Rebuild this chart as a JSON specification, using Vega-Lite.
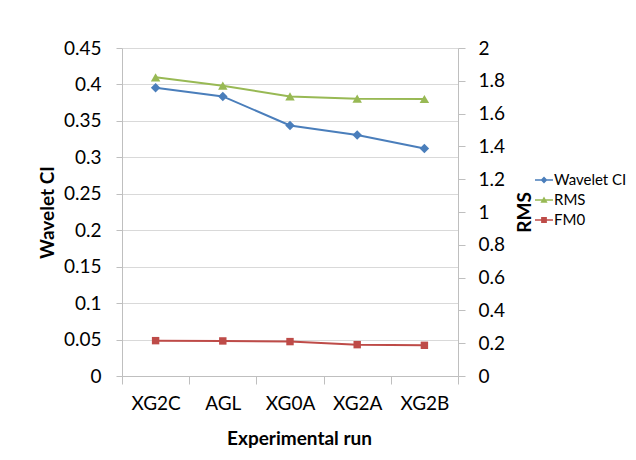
{
  "$schema": "https://vega.github.io/schema/vega-lite/v6.json",
  "width": 336,
  "height": 328,
  "autosize": "none",
  "padding": {"left": 122, "top": 48, "right": 178, "bottom": 84},
  "background": "white",
  "config": {
    "font": "Lato",
    "view": {"stroke": null},
    "axis": {
      "labelFont": "Lato",
      "titleFont": "Lato",
      "labelColor": "black",
      "titleColor": "black",
      "domainColor": "#bfbfbf",
      "tickColor": "#bfbfbf",
      "gridColor": "#d9d9d9",
      "labelFontSize": 19,
      "titleFontSize": 19,
      "titleFontWeight": "bold"
    }
  },
  "data": {
    "values": [
      {"run": "XG2C", "series": "Wavelet CI", "value": 0.3955},
      {"run": "AGL", "series": "Wavelet CI", "value": 0.3836},
      {"run": "XG0A", "series": "Wavelet CI", "value": 0.3438},
      {"run": "XG2A", "series": "Wavelet CI", "value": 0.3305},
      {"run": "XG2B", "series": "Wavelet CI", "value": 0.3122},
      {"run": "XG2C", "series": "RMS", "value": 1.821},
      {"run": "AGL", "series": "RMS", "value": 1.770},
      {"run": "XG0A", "series": "RMS", "value": 1.705},
      {"run": "XG2A", "series": "RMS", "value": 1.691},
      {"run": "XG2B", "series": "RMS", "value": 1.689},
      {"run": "XG2C", "series": "FM0", "value": 0.0485},
      {"run": "AGL", "series": "FM0", "value": 0.0481},
      {"run": "XG0A", "series": "FM0", "value": 0.0472},
      {"run": "XG2A", "series": "FM0", "value": 0.0430},
      {"run": "XG2B", "series": "FM0", "value": 0.0421}
    ]
  },
  "encoding": {
    "x": {
      "field": "run",
      "type": "nominal",
      "sort": ["XG2C", "AGL", "XG0A", "XG2A", "XG2B"],
      "scale": {"type": "band", "paddingInner": 0, "paddingOuter": 0},
      "axis": {
        "title": "Experimental run",
        "labelAngle": 0,
        "tickBand": "extent",
        "tickSize": 8,
        "labelPadding": 10,
        "titlePadding": 16,
        "titleX": 177,
        "grid": false
      }
    },
    "color": {
      "field": "series",
      "type": "nominal",
      "scale": {
        "domain": ["Wavelet CI", "RMS", "FM0"],
        "range": ["#4a7ebb", "#98b954", "#be4b48"]
      },
      "legend": {
        "title": null,
        "orient": "none",
        "legendX": 413,
        "legendY": 123,
        "labelFont": "Lato",
        "labelFontSize": 15,
        "labelColor": "black",
        "symbolSize": 324,
        "rowPadding": 3,
        "labelOffset": 1,
        "encode": {
          "symbols": {
            "update": {
              "shape": {"signal": "datum.value == 'Wavelet CI' ? 'M-1,-0.09L1,-0.09L1,0.09L-1,0.09Z M0,-0.38L0.38,0L0,0.38L-0.38,0Z' : datum.value == 'RMS' ? 'M-1,-0.09L1,-0.09L1,0.09L-1,0.09Z M0,-0.38L0.4,0.3L-0.4,0.3Z' : 'M-1,-0.09L1,-0.09L1,0.09L-1,0.09Z M-0.32,-0.32L0.32,-0.32L0.32,0.32L-0.32,0.32Z'"},
              "fill": {"scale": "color", "field": "value"},
              "fillOpacity": {"value": 1},
              "strokeWidth": {"value": 0}
            }
          }
        }
      }
    }
  },
  "layer": [
    {
      "transform": [{"filter": "datum.series != 'RMS'"}],
      "encoding": {
        "y": {
          "field": "value",
          "type": "quantitative",
          "scale": {"domain": [0, 0.45], "nice": false, "zero": true},
          "axis": {
            "title": "Wavelet CI",
            "values": [0, 0.05, 0.1, 0.15, 0.2, 0.25, 0.3, 0.35, 0.4, 0.45],
            "format": "~g",
            "tickSize": 6,
            "labelPadding": 15,
            "titlePadding": 6,
            "grid": true
          }
        }
      },
      "layer": [
        {"mark": {"type": "line", "strokeWidth": 2}},
        {
          "transform": [{"filter": "datum.series == 'Wavelet CI'"}],
          "mark": {"type": "point", "filled": true, "opacity": 1, "shape": "diamond", "size": 90}
        },
        {
          "transform": [{"filter": "datum.series == 'FM0'"}],
          "mark": {"type": "point", "filled": true, "opacity": 1, "shape": "square", "size": 55}
        }
      ]
    },
    {
      "transform": [{"filter": "datum.series == 'RMS'"}],
      "encoding": {
        "y": {
          "field": "value",
          "type": "quantitative",
          "scale": {"domain": [0, 2], "nice": false, "zero": true},
          "axis": {
            "title": "RMS",
            "orient": "right",
            "values": [0, 0.2, 0.4, 0.6, 0.8, 1, 1.2, 1.4, 1.6, 1.8, 2],
            "format": "~g",
            "tickSize": 7,
            "labelPadding": 13,
            "titlePadding": 30,
            "titleAngle": -90,
            "grid": false
          }
        }
      },
      "layer": [
        {"mark": {"type": "line", "strokeWidth": 2}},
        {"mark": {"type": "point", "filled": true, "opacity": 1, "shape": "triangle-up", "size": 90}}
      ]
    }
  ],
  "resolve": {"scale": {"y": "independent"}}
}
